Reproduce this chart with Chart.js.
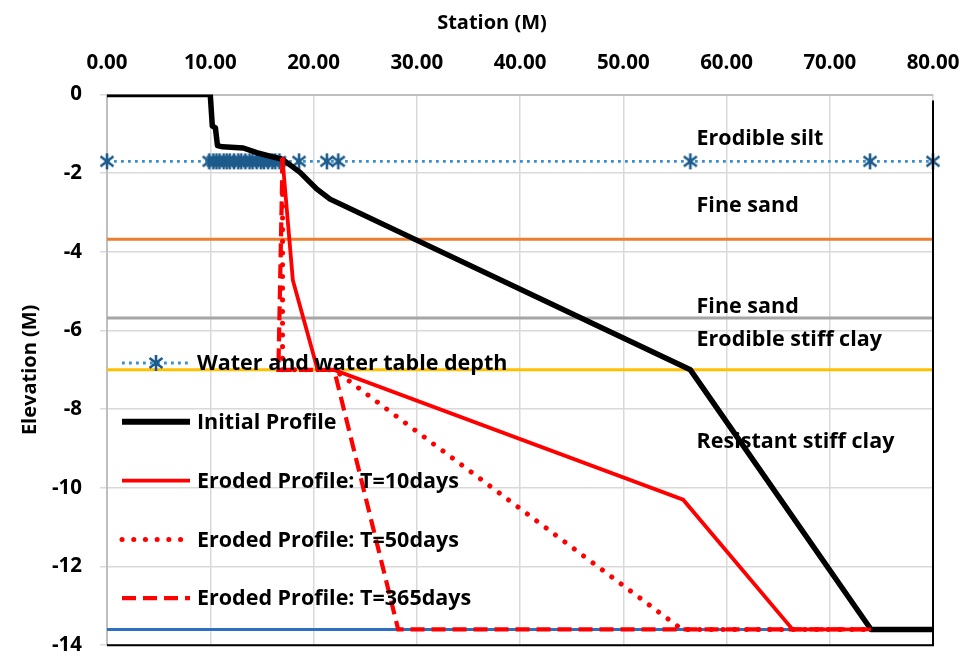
<!DOCTYPE html>
<html>
<head>
<meta charset="utf-8">
<script src="https://cdn.jsdelivr.net/npm/chart.js@4.4.1/dist/chart.umd.min.js"></script>
<style>
  html, body { margin: 0; padding: 0; background: #ffffff; }
  #wrap { width: 972px; height: 657px; }
</style>
</head>
<body>
<div id="wrap"><canvas id="profile" width="972" height="657"></canvas></div>
<script>
// ---- Bank profile data (station in m, elevation in m) ----
const initialStation = [0, 10.0, 10.2, 10.5, 10.7, 11.2, 13.2, 14.5, 17.0, 18.7, 20.3, 21.6, 56.5, 74.0, 80.0];
const initialElev    = [0, 0, -0.80, -0.85, -1.30, -1.33, -1.36, -1.48, -1.65, -1.98, -2.40, -2.66, -7.00, -13.60, -13.60];

const t10Station = [17.0, 18.0, 20.4, 22.0, 55.8, 66.4, 74.0];
const t10Elev    = [-1.65, -4.72, -7.00, -7.00, -10.30, -13.60, -13.60];

const t50Station = [17.0, 17.0, 22.0, 55.7, 74.0];
const t50Elev    = [-1.65, -7.00, -7.00, -13.60, -13.60];

const t365Station = [17.0, 16.6, 22.0, 28.2, 74.0];
const t365Elev    = [-1.65, -7.00, -7.00, -13.60, -13.60];

// Survey stations along the water table
const waterStation = [0, 9.9, 10.3, 10.6, 10.9, 11.3, 11.6, 11.9, 12.3, 12.7, 13.0, 13.4, 13.8,
                      14.1, 14.5, 14.9, 15.2, 15.6, 16.0, 16.3, 16.7, 18.6, 21.3, 22.4, 56.5, 73.9, 80.0];
const waterTableElev = -1.7;

// Soil layer boundaries (elevation, m)
const boundaryElev = [-3.68, -5.68, -7.00, -13.60];
const boundaryColors = ['#ed7d31', '#a5a5a5', '#ffc000', '#2e6fc4'];

// Soil layer names and the elevation each name is written at
const layerNames = ['Erodible silt', 'Fine sand', 'Fine sand', 'Erodible stiff clay', 'Resistant stiff clay'];
const layerNameElev = [-1.12, -2.84, -5.40, -6.24, -8.84];
const layerNameStation = 57.1;

// Axis ticks
const stationTicks = [0, 10, 20, 30, 40, 50, 60, 70, 80];
const elevTicks = [0, -2, -4, -6, -8, -10, -12, -14];

const FONT = '"Open Sans", Lato, "DejaVu Sans", sans-serif';

// Asterisk marker used for the water table points
function makeStar(color) {
  const s = 18, c = document.createElement('canvas');
  c.width = s; c.height = s;
  const g = c.getContext('2d');
  g.strokeStyle = color; g.lineWidth = 2.6; g.lineCap = 'butt';
  g.beginPath();
  g.moveTo(s / 2, 1); g.lineTo(s / 2, s - 1);
  g.moveTo(2.5, 4); g.lineTo(s - 2.5, s - 4);
  g.moveTo(2.5, s - 4); g.lineTo(s - 2.5, 4);
  g.stroke();
  return c;
}
const star = makeStar('#1d5b8c');

const pts = (xs, ys) => xs.map((x, i) => ({ x, y: ys[i] }));

const datasets = [];
boundaryElev.forEach((e, i) => {
  datasets.push({
    label: 'boundary' + i, data: [{ x: 0, y: e }, { x: 80, y: e }],
    borderColor: boundaryColors[i], borderWidth: 3, pointRadius: 0, order: 10, inLegend: false
  });
});
datasets.push({
  label: 'Water and water table depth',
  data: waterStation.map(x => ({ x, y: waterTableElev })),
  borderColor: '#3b8fd0', borderWidth: 2.8, borderDash: [2.8, 4.2],
  pointStyle: star, pointRadius: 9, clip: false, order: 5, inLegend: true
});
datasets.push({
  label: 'Initial Profile', data: pts(initialStation, initialElev),
  borderColor: '#000000', borderWidth: 5.5, pointRadius: 0, order: 4, inLegend: true,
  borderJoinStyle: 'round'
});
datasets.push({
  label: 'Eroded Profile: T=10days', data: pts(t10Station, t10Elev),
  borderColor: '#ff0000', borderWidth: 3.8, pointRadius: 0, order: 3, inLegend: true
});
datasets.push({
  label: 'Eroded Profile: T=50days', data: pts(t50Station, t50Elev),
  borderColor: '#ff0000', borderWidth: 5, borderDash: [0.1, 11.6], borderCapStyle: 'round',
  pointRadius: 0, order: 2, inLegend: true
});
datasets.push({
  label: 'Eroded Profile: T=365days', data: pts(t365Station, t365Elev),
  borderColor: '#ff0000', borderWidth: 4.2, borderDash: [14, 7],
  pointRadius: 0, order: 1, inLegend: true
});

// Legend drawn inside the plot, one entry per row
const innerLegend = {
  id: 'innerLegend',
  afterDatasetsDraw(chart) {
    const ctx = chart.ctx;
    const items = chart.data.datasets.filter(d => d.inLegend);
    const x0 = 122, x1 = 190, tx = 197, y0 = 363, step = 58.8;
    ctx.save();
    items.forEach((d, i) => {
      const y = y0 + i * step;
      ctx.strokeStyle = d.borderColor;
      ctx.lineWidth = d.label === 'Initial Profile' ? 6 : d.borderWidth;
      ctx.setLineDash(d.borderDash || []);
      ctx.lineCap = d.borderCapStyle || 'butt';
      ctx.beginPath(); ctx.moveTo(x0, y); ctx.lineTo(x1, y); ctx.stroke();
      if (d.pointStyle instanceof HTMLCanvasElement) {
        ctx.drawImage(d.pointStyle, (x0 + x1) / 2 - d.pointStyle.width / 2, y - d.pointStyle.height / 2);
      }
      ctx.setLineDash([]);
      ctx.fillStyle = '#000000';
      ctx.font = 'bold 21.5px ' + FONT;
      ctx.textAlign = 'left'; ctx.textBaseline = 'middle';
      ctx.fillText(d.label, tx, y + 1);
    });
    ctx.restore();
  }
};

// Layer names, the x-axis title and the right/bottom frame
const annotations = {
  id: 'annotations',
  afterDraw(chart) {
    const { ctx, chartArea: a, scales: { x, y } } = chart;
    ctx.save();
    ctx.fillStyle = '#000000';
    ctx.font = 'bold 21.5px ' + FONT;
    ctx.textAlign = 'left'; ctx.textBaseline = 'middle';
    layerNames.forEach((n, i) => {
      ctx.fillText(n, x.getPixelForValue(layerNameStation), y.getPixelForValue(layerNameElev[i]));
    });
    ctx.textAlign = 'center';
    ctx.font = 'bold 20px ' + FONT;
    ctx.fillText('Station (M)', 492, 23);
    ctx.strokeStyle = '#000000'; ctx.lineWidth = 2;
    ctx.beginPath();
    ctx.moveTo(a.right, a.top + 6); ctx.lineTo(a.right, a.bottom);
    ctx.lineTo(a.left, a.bottom);
    ctx.stroke();
    ctx.restore();
  }
};

new Chart(document.getElementById('profile'), {
  type: 'line',
  data: { datasets },
  options: {
    responsive: false,
    animation: false,
    events: [],
    layout: { padding: { left: 0, right: 39, top: 0, bottom: 7 } },
    plugins: { legend: { display: false }, tooltip: { enabled: false } },
    elements: { line: { tension: 0 } },
    scales: {
      x: {
        type: 'linear', position: 'top', min: 0, max: 80,
        afterBuildTicks: s => { s.ticks = stationTicks.map(v => ({ value: v })); },
        afterFit: s => { s.height = 94.5; s.paddingLeft = 0; s.paddingRight = 0; },
        ticks: {
          callback: v => Number(v).toFixed(2),
          color: '#000000', padding: 19, maxRotation: 0,
          font: { family: FONT, size: 20.5, weight: 'bold' }
        },
        grid: { color: '#d9d9d9', lineWidth: 1.5, drawTicks: false },
        border: { color: '#bfbfbf', width: 2 },
        title: { display: false }
      },
      y: {
        type: 'linear', min: -14, max: 0,
        afterBuildTicks: s => { s.ticks = elevTicks.map(v => ({ value: v })); },
        afterFit: s => { s.width = 107; s.paddingTop = 0; s.paddingBottom = 0; },
        ticks: {
          callback: v => String(v),
          color: '#000000', padding: 18,
          font: { family: FONT, size: 20.5, weight: 'bold' }
        },
        grid: { color: '#d9d9d9', lineWidth: 1.5, tickLength: 7 },
        border: { color: '#bfbfbf', width: 2 },
        title: {
          display: true, text: 'Elevation (M)', color: '#000000',
          font: { family: FONT, size: 20, weight: 'bold' },
          padding: { top: 18, bottom: 0 }
        }
      }
    }
  },
  plugins: [innerLegend, annotations]
});
</script>
</body>
</html>
